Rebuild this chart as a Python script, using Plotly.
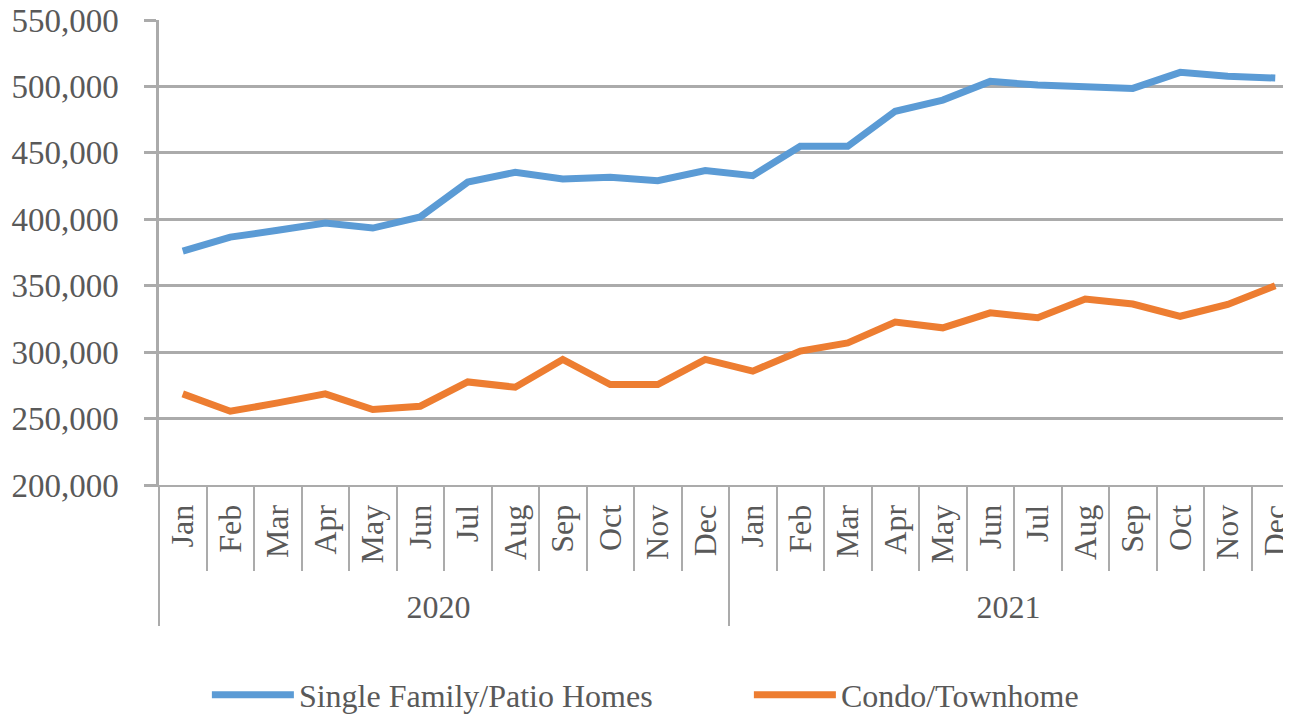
import plotly.graph_objects as go

years = ["2020"] * 12 + ["2021"] * 12
months = ["Jan", "Feb", "Mar", "Apr", "May", "Jun", "Jul", "Aug", "Sep", "Oct", "Nov", "Dec"] * 2

single_family = [376000, 386600, 391700, 397200, 393400, 401800, 428000, 435400, 430400, 431600, 429100, 436700,
                 432800, 455000, 455000, 481300, 489700, 503800, 501000, 499800, 498500, 510600, 507600, 506300]
condo = [268600, 255500, 261800, 268600, 256800, 259300, 277600, 273600, 294500, 275600, 275600, 294500,
         285700, 300800, 307000, 322600, 318300, 329600, 325900, 340000, 336200, 327000, 335900, 350000]

y_ticks = [200000, 250000, 300000, 350000, 400000, 450000, 500000, 550000]

FONT = "Liberation Serif, Times New Roman, serif"
TXT = "#595959"
GRID = "#ABABAB"

fig = go.Figure()
fig.add_trace(go.Scatter(x=[years, months], y=single_family, mode="lines", name="Single Family/Patio Homes",
                         line=dict(color="#5B9BD5", width=7, shape="linear")))
fig.add_trace(go.Scatter(x=[years, months], y=condo, mode="lines", name="Condo/Townhome",
                         line=dict(color="#ED7D31", width=7, shape="linear")))

fig.update_layout(
    width=1291, height=714,
    margin=dict(l=151, r=0, t=12, b=237, autoexpand=False),
    paper_bgcolor="white", plot_bgcolor="white",
    font=dict(family=FONT, size=32, color=TXT),
    showlegend=True,
    legend=dict(orientation="h", x=0.042, xanchor="left", y=-0.4516, yanchor="middle",
                font=dict(family=FONT, size=32, color=TXT), entrywidth=445, entrywidthmode="pixels",
                itemwidth=82),
)
fig.update_xaxes(
    type="multicategory", range=[-0.5, 23.5], automargin=False,
    showgrid=False, showline=True, linecolor=GRID, linewidth=2,
    ticks="outside", tickson="boundaries", ticklen=84, tickcolor=GRID, tickwidth=2,
    tickangle=-90, tickfont=dict(family=FONT, size=32, color=TXT),
    ticklabelstandoff=5,
    showdividers=True, dividercolor=GRID, dividerwidth=2,
)
fig.update_yaxes(
    range=[200000, 550000], tickvals=y_ticks, tickformat=",", automargin=False,
    ticklabeloverflow="allow",
    showgrid=True, gridcolor=GRID, gridwidth=2.5,
    showline=True, linecolor=GRID, linewidth=2.5,
    ticks="outside", ticklen=12, tickcolor=GRID, tickwidth=2.5,
    ticklabelstandoff=19, tickfont=dict(family=FONT, size=33, color=TXT),
    zeroline=False,
)

fig.write_html("out.html")
